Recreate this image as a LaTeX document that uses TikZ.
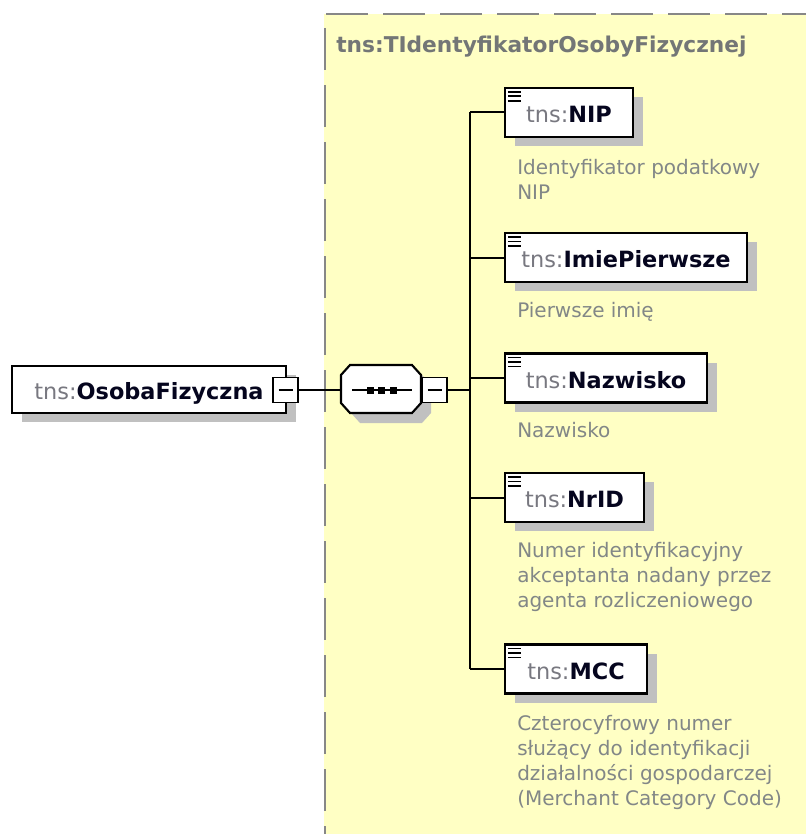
\documentclass[tikz,border=0pt]{standalone}
\usepackage{fontspec}
\setmainfont{DejaVu Sans}
\usetikzlibrary{shadows,calc}
\definecolor{bgyellow}{RGB}{255,255,196}
\definecolor{bordgray}{RGB}{135,135,135}
\definecolor{shadowgray}{RGB}{192,192,192}
\definecolor{tnsgray}{RGB}{120,120,128}
\definecolor{namecol}{RGB}{5,5,30}
\definecolor{descgray}{RGB}{130,135,135}
\definecolor{titlegray}{RGB}{115,118,118}
\tikzset{
  elbox/.style={draw=black, line width=1.6pt, fill=white, inner sep=0pt,
    minimum height=36.75pt, text height=15pt, text depth=0pt,
    font=\fontsize{16.8pt}{20pt}\selectfont,
    drop shadow={shadow xshift=7.5pt, shadow yshift=-6.75pt, fill=shadowgray, opacity=1}},
  seqanchor/.style={inner sep=0pt, minimum width=60pt, minimum height=36pt},
  octline/.style={draw=black, line width=1.6pt, fill=white, line join=miter},
  minusbox/.style={draw=black, line width=1.4pt, fill=white, minimum size=18.75pt, inner sep=0pt},
  conn/.style={line width=1.5pt, draw=black},
  desc/.style={anchor=base west, inner sep=0pt, text=descgray,
    font=\fontsize{15pt}{18.75pt}\selectfont},
  iconline/.style={line width=1.4pt, draw=black},
}
\newcommand{\tnsname}[1]{{\color{tnsgray}tns:}{\color{namecol}\bfseries #1}}
\newcommand{\elicon}[1]{%
  \foreach \dy in {5,9.5,14}{\draw[iconline] ($(#1.north west)+(4,\dy)$) -- ++(13,0);}}
\newcommand{\minussign}[1]{\draw[line width=1.5pt] ($(#1.center)+(-7,0)$) -- ($(#1.center)+(7,0)$);}
% octagon with corners (x1,y1)-(x2,y2), cut 9 x 10
\newcommand{\octagonpath}[4]{(#1+9,#2) -- (#3-9,#2) -- (#3,#2+10) -- (#3,#4-10) -- (#3-9,#4) -- (#1+9,#4) -- (#1,#4-10) -- (#1,#2+10) -- cycle}
\begin{document}
\begin{tikzpicture}[x=0.75pt,y=-0.75pt]
\useasboundingbox (0,0) rectangle (806,834);
% complex type area
\fill[bgyellow] (324,14) rectangle (806,834);
\draw[bordgray, line width=1.5pt, dash pattern=on 31.5pt off 11.25pt] (326,14.5) -- (806,14.5);
\draw[bordgray, line width=1.5pt, dash pattern=on 31.5pt off 11.25pt] (324.8,28) -- (324.8,834);
\node[anchor=base west, inner sep=0pt, text=titlegray, font=\fontsize{16.3pt}{20pt}\selectfont\bfseries] (title) at (336,53) {tns:TIdentyfikatorOsobyFizycznej};

% root element
\node[elbox, minimum width=205.5pt, minimum height=35.25pt] (osoba) at (149,389.5) {\tnsname{OsobaFizyczna}};
\node[minusbox] (osobam) at (285.5,390) {};
\minussign{osobam}

% sequence compositor
\fill[shadowgray] \octagonpath{351}{375}{431}{423};
\draw[octline] \octagonpath{341}{365}{421}{413};
\node[seqanchor] (seq) at (381,389) {};
\draw[line width=1.5pt] (352,390) -- (412,390);
\foreach \cx in {370,381.5,393.5}{\fill[black] (\cx-3.5,386.5) rectangle (\cx+3.5,393.5);}
\node[minusbox] (seqm) at (434.5,390) {};
\minussign{seqm}

% children
\node[elbox, minimum width=96pt] (nip) at (569,112.5) {\tnsname{NIP}};
\node[elbox, minimum width=181.5pt] (imie) at (626,257.5) {\tnsname{ImiePierwsze}};
\node[elbox, minimum width=151.5pt] (nazw) at (606,378) {\tnsname{Nazwisko}};
\node[elbox, minimum width=104.25pt] (nrid) at (574.5,497.5) {\tnsname{NrID}};
\node[elbox, minimum width=106.5pt] (mcc) at (576,669) {\tnsname{MCC}};
\elicon{nip}\elicon{imie}\elicon{nazw}\elicon{nrid}\elicon{mcc}

% descriptions
\node[desc] (nipd) at (517,175) {\begin{tabular}[t]{@{}l@{}}Identyfikator podatkowy\\NIP\end{tabular}};
\node[desc] (imied) at (517,317) {\begin{tabular}[t]{@{}l@{}}Pierwsze imię\end{tabular}};
\node[desc] (nazwd) at (517,437) {\begin{tabular}[t]{@{}l@{}}Nazwisko\end{tabular}};
\node[desc] (nridd) at (517,557) {\begin{tabular}[t]{@{}l@{}}Numer identyfikacyjny\\akceptanta nadany przez\\agenta rozliczeniowego\end{tabular}};
\node[desc] (mccd) at (517,730) {\begin{tabular}[t]{@{}l@{}}Czterocyfrowy numer\\służący do identyfikacji\\działalności gospodarczej\\(Merchant Category Code)\end{tabular}};

% connectors
\coordinate (trunk) at (470,390);
\draw[conn] (osobam.east) -- (osobam.east -| seq.west);
\draw[conn] (seqm.east) -- (trunk);
\draw[conn] (trunk |- nip.west) -- (trunk |- mcc.west);
\foreach \n in {nip,imie,nazw,nrid,mcc}{\draw[conn] (trunk |- \n.west) -- (\n.west);}
\end{tikzpicture}
\end{document}
